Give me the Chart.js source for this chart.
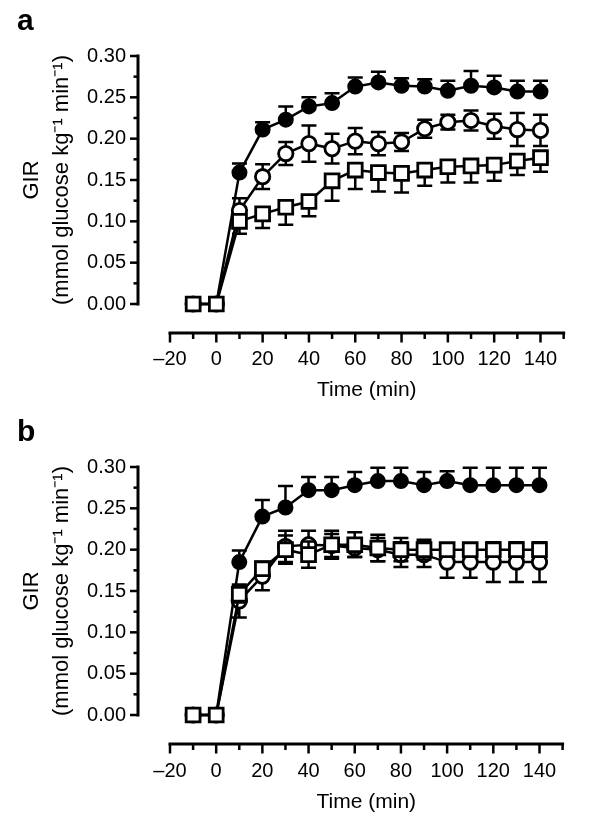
<!DOCTYPE html>
<html><head><meta charset="utf-8">
<script src="https://cdn.jsdelivr.net/npm/chart.js@4.4.1/dist/chart.umd.min.js"></script>
<style>
html,body{margin:0;padding:0;background:#fff;}
#wrap{position:relative;width:601px;height:823px;}
canvas{position:absolute;left:0;}
</style>
</head><body>
<div id="wrap">
<canvas id="ca" width="601" height="411" style="top:0"></canvas>
<canvas id="cb" width="601" height="412" style="top:411px"></canvas>
</div>
<script>
// ---- data ----
const times = [-10, 0, 10, 20, 30, 40, 50, 60, 70, 80, 90, 100, 110, 120, 130, 140];

// panel a
const aFilled      = [0, 0, 0.159, 0.211, 0.223, 0.239, 0.243, 0.263, 0.268, 0.264, 0.263, 0.258, 0.264, 0.262, 0.257, 0.257];
const aFilledErrUp = [0, 0, 0.011, 0.009, 0.016, 0.011, 0.012, 0.011, 0.013, 0.009, 0.009, 0.012, 0.018, 0.014, 0.013, 0.013];
const aOpen        = [0, 0, 0.113, 0.154, 0.182, 0.194, 0.188, 0.197, 0.194, 0.196, 0.212, 0.220, 0.222, 0.215, 0.211, 0.210];
const aOpenErr     = [0, 0, 0.015, 0.015, 0.014, 0.022, 0.018, 0.016, 0.014, 0.011, 0.011, 0.009, 0.012, 0.015, 0.020, 0.019];
const aSquare      = [0, 0, 0.100, 0.109, 0.117, 0.124, 0.149, 0.162, 0.159, 0.158, 0.162, 0.166, 0.167, 0.168, 0.173, 0.177];
const aSquareErrDn = [0, 0, 0.015, 0.017, 0.021, 0.018, 0.024, 0.023, 0.023, 0.023, 0.019, 0.019, 0.020, 0.019, 0.017, 0.017];

// panel b
const bFilled      = [0, 0, 0.185, 0.240, 0.251, 0.272, 0.272, 0.278, 0.283, 0.283, 0.278, 0.283, 0.278, 0.278, 0.278, 0.278];
const bFilledErrUp = [0, 0, 0.014, 0.020, 0.026, 0.016, 0.016, 0.016, 0.016, 0.016, 0.016, 0.012, 0.021, 0.021, 0.021, 0.021];
const bOpen        = [0, 0, 0.138, 0.168, 0.204, 0.206, 0.205, 0.202, 0.200, 0.194, 0.194, 0.185, 0.185, 0.185, 0.185, 0.185];
const bOpenErr     = [0, 0, 0.020, 0.017, 0.019, 0.017, 0.014, 0.011, 0.014, 0.015, 0.015, 0.019, 0.019, 0.024, 0.024, 0.024];
const bSquare      = [0, 0, 0.146, 0.177, 0.200, 0.194, 0.206, 0.206, 0.202, 0.200, 0.200, 0.200, 0.200, 0.200, 0.200, 0.200];
const bSquareErr   = [0, 0, 0.010, 0.008, 0.017, 0.016, 0.017, 0.015, 0.016, 0.014, 0.012, 0.006, 0.006, 0.006, 0.006, 0.006];

// axes / labels
const xMajorTicks = [-20, 0, 20, 40, 60, 80, 100, 120, 140];
const xMinorTicks = [-10, 10, 30, 50, 70, 90, 110, 130, 150];
const yMajorTicks = [0, 0.05, 0.10, 0.15, 0.20, 0.25, 0.30];
const yMinorTicks = [0.025, 0.075, 0.125, 0.175, 0.225, 0.275];
const xRange = [-20, 150];
const yRange = [0, 0.30];
const yTitleLines = ['GIR', '(mmol glucose kg\u207B\u00B9 min\u207B\u00B9)'];
const xTitleText = 'Time (min)';
const panelLabels = ['a', 'b'];

const FONT = "'Liberation Sans', Arial, Helvetica, sans-serif";

function pts(vals) { return times.map((t, i) => ({x: t, y: vals[i]})); }

const errorBarPlugin = {
  id: 'errbars',
  beforeDatasetDraw(chart, args) {
    const ds = chart.data.datasets[args.index];
    const meta = args.meta;
    const ys = chart.scales.y;
    const ctx = chart.ctx;
    ctx.save();
    ctx.strokeStyle = '#000';
    ctx.lineWidth = 2.5;
    const cap = 7.5;
    meta.data.forEach((el, i) => {
      const v = ds.data[i].y;
      const up = ds.errUp ? ds.errUp[i] : 0;
      const dn = ds.errDown ? ds.errDown[i] : 0;
      if (up > 0) {
        const yy = ys.getPixelForValue(v + up);
        ctx.beginPath(); ctx.moveTo(el.x, el.y); ctx.lineTo(el.x, yy);
        ctx.moveTo(el.x - cap, yy); ctx.lineTo(el.x + cap, yy); ctx.stroke();
      }
      if (dn > 0) {
        const yy = ys.getPixelForValue(v - dn);
        ctx.beginPath(); ctx.moveTo(el.x, el.y); ctx.lineTo(el.x, yy);
        ctx.moveTo(el.x - cap, yy); ctx.lineTo(el.x + cap, yy); ctx.stroke();
      }
    });
    ctx.restore();
  }
};

const axesPlugin = {
  id: 'axesDraw',
  afterDraw(chart, args, opts) {
    const {ctx, chartArea, scales: {x, y}} = chart;
    const ax = chartArea.left - 32;
    const ay = chartArea.bottom + 29;
    ctx.save();
    ctx.strokeStyle = '#000';
    ctx.lineWidth = 3;
    ctx.lineCap = 'square';
    // y axis
    ctx.beginPath();
    ctx.moveTo(ax, y.getPixelForValue(yRange[0]));
    ctx.lineTo(ax, y.getPixelForValue(yRange[1]));
    ctx.stroke();
    // x axis
    ctx.beginPath();
    ctx.moveTo(x.getPixelForValue(xRange[0]), ay);
    ctx.lineTo(x.getPixelForValue(xRange[1]), ay);
    ctx.stroke();
    ctx.lineCap = 'butt';
    ctx.lineWidth = 2.5;
    yMajorTicks.forEach(v => { const p = y.getPixelForValue(v); ctx.beginPath(); ctx.moveTo(ax, p); ctx.lineTo(ax - 8, p); ctx.stroke(); });
    yMinorTicks.forEach(v => { const p = y.getPixelForValue(v); ctx.beginPath(); ctx.moveTo(ax, p); ctx.lineTo(ax - 4.5, p); ctx.stroke(); });
    xMajorTicks.forEach(v => { const p = x.getPixelForValue(v); ctx.beginPath(); ctx.moveTo(p, ay); ctx.lineTo(p, ay + 9.5); ctx.stroke(); });
    xMinorTicks.forEach(v => { const p = x.getPixelForValue(v); ctx.beginPath(); ctx.moveTo(p, ay); ctx.lineTo(p, ay + 6); ctx.stroke(); });
    // panel label
    ctx.fillStyle = '#000';
    ctx.font = "bold 30px " + FONT;
    ctx.textBaseline = 'alphabetic';
    ctx.textAlign = 'left';
    ctx.fillText(opts.label, 17, 30);
    ctx.restore();
  }
};

function makeChart(id, label, series, xPad) {
  const canvas = document.getElementById(id);
  const H = canvas.height;
  const mk = (s) => Object.assign({
    data: pts(s.vals),
    borderColor: '#000',
    borderWidth: 2.5,
    pointBorderColor: '#000',
    pointBorderWidth: 2.8,
    tension: 0,
    clip: false,
    fill: false
  }, s.style, {errUp: s.up, errDown: s.dn});
  return new Chart(canvas, {
    type: 'line',
    data: { datasets: series.map(mk) },
    options: {
      responsive: false,
      animation: false,
      devicePixelRatio: 1,
      layout: { padding: { top: 37, right: 14, left: 0, bottom: 0 } },
      plugins: { legend: { display: false }, tooltip: { enabled: false }, axesDraw: { label } },
      scales: {
        x: {
          type: 'linear', min: xRange[0], max: xRange[1],
          grid: { display: false, drawTicks: false }, border: { display: false },
          afterBuildTicks: (s) => { s.ticks = xMajorTicks.map(v => ({value: v})); },
          afterFit: (s) => { s.height = H - 304; },
          ticks: {
            color: '#000', padding: xPad, maxRotation: 0, autoSkip: false,
            font: { family: FONT, size: 20 },
            callback: (v) => v < 0 ? '\u2013' + Math.abs(v) : String(v)
          },
          title: { display: true, text: xTitleText, color: '#000', font: { family: FONT, size: 21 }, padding: { top: 0, bottom: 8 } }
        },
        y: {
          type: 'linear', min: yRange[0], max: yRange[1],
          grid: { display: false, drawTicks: false }, border: { display: false },
          afterBuildTicks: (s) => { s.ticks = yMajorTicks.map(v => ({value: v})); },
          afterFit: (s) => { s.width = 170; },
          ticks: {
            color: '#000', padding: 44,
            font: { family: FONT, size: 20 },
            callback: (v) => Number(v).toFixed(2)
          },
          title: { display: true, text: yTitleLines, color: '#000', font: { family: FONT, size: 22, lineHeight: 30/22 }, padding: { top: 17, bottom: 0 } }
        }
      }
    },
    plugins: [errorBarPlugin, axesPlugin]
  });
}

const squareStyle = { pointStyle: 'rect', pointRadius: 9.8, pointBackgroundColor: '#fff' };
const openStyle = { pointStyle: 'circle', pointRadius: 7.2, pointBackgroundColor: '#fff' };
const filledStyle = { pointStyle: 'circle', pointRadius: 6.6, pointBackgroundColor: '#000' };

makeChart('ca', panelLabels[0], [
  { vals: aSquare, style: squareStyle, up: null, dn: aSquareErrDn },
  { vals: aOpen, style: openStyle, up: aOpenErr, dn: aOpenErr },
  { vals: aFilled, style: filledStyle, up: aFilledErrUp, dn: null }
], 43);

makeChart('cb', panelLabels[1], [
  { vals: bSquare, style: squareStyle, up: bSquareErr, dn: bSquareErr },
  { vals: bOpen, style: openStyle, up: bOpenErr, dn: bOpenErr },
  { vals: bFilled, style: filledStyle, up: bFilledErrUp, dn: null }
], 44);
</script>
</body></html>
